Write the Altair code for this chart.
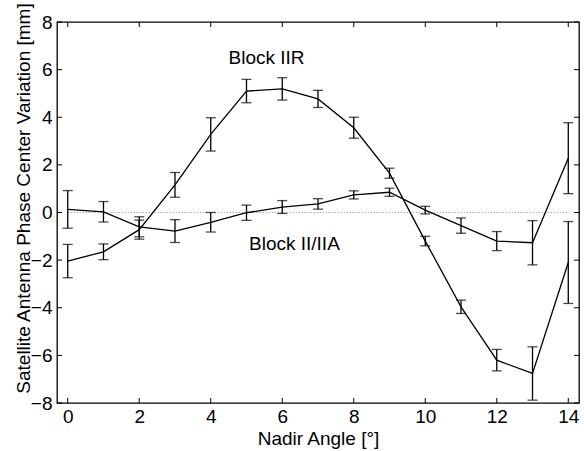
import altair as alt
import pandas as pd

# ---- data ----
angles = list(range(15))
iir = [-2.04, -1.65, -0.72, 1.16, 3.28, 5.10, 5.19, 4.77, 3.56, 1.65, -1.20, -3.96, -6.20, -6.76, -2.10]
iir_err = [0.70, 0.33, 0.40, 0.52, 0.70, 0.49, 0.47, 0.36, 0.44, 0.21, 0.20, 0.28, 0.45, 1.12, 1.72]
ii = [0.13, 0.03, -0.60, -0.78, -0.41, -0.01, 0.23, 0.36, 0.74, 0.85, 0.10, -0.55, -1.20, -1.27, 2.28]
ii_err = [0.79, 0.43, 0.42, 0.48, 0.41, 0.32, 0.27, 0.22, 0.17, 0.17, 0.16, 0.32, 0.40, 0.93, 1.49]

label_text = ["Block IIR", "Block II/IIA"]
label_x = [5.56, 6.34]
label_y = [6.49, -1.34]

x_ticks = [0, 2, 4, 6, 8, 10, 12, 14]
y_ticks = [-8, -6, -4, -2, 0, 2, 4, 6, 8]
zero_span = [0, 14]

W, H = 522, 381
FONT = "Liberation Sans"
FS = 19
TL = 5

rows = []
for name, vals, errs in [("Block IIR", iir, iir_err), ("Block II/IIA", ii, ii_err)]:
    for a, v, e in zip(angles, vals, errs):
        rows.append({"series": name, "angle": a, "value": v, "lo": v - e, "hi": v + e})
df = pd.DataFrame(rows)

xscale = alt.Scale(domain=[-0.3, 14.3], nice=False, zero=False)
yscale = alt.Scale(domain=[-8, 8], nice=False, zero=False)

xaxis = alt.Axis(values=x_ticks, title="Nadir Angle [°]", domain=False, ticks=False,
                 grid=False, labelFont=FONT, labelFontSize=FS, labelColor="black",
                 labelPadding=4, titleFont=FONT, titleFontSize=FS, titleFontWeight="normal",
                 titleColor="black", titleY=41, titleBaseline="alphabetic")
yaxis = alt.Axis(values=y_ticks, title="Satellite Antenna Phase Center Variation [mm]",
                 domain=False, ticks=False, grid=False, labelFont=FONT, labelFontSize=FS,
                 labelColor="black", labelPadding=5, titleFont=FONT, titleFontSize=FS,
                 titleFontWeight="normal", titleColor="black", titleX=-34,
                 titleY=176, titleBaseline="middle", titleAlign="center")


def X(field):
    return alt.X(field, scale=xscale, axis=xaxis)


def Y(field):
    return alt.Y(field, scale=yscale, axis=yaxis)


base = alt.Chart(df)

lines = base.mark_line(color="black", strokeWidth=1.3).encode(
    x=X("angle:Q"), y=Y("value:Q"), detail="series:N",
)
bars = base.mark_rule(color="black", strokeWidth=1.3).encode(
    x=X("angle:Q"), y=Y("lo:Q"), y2="hi:Q",
)
caps_lo = base.mark_tick(color="black", orient="horizontal", size=10, thickness=1.3).encode(
    x=X("angle:Q"), y=Y("lo:Q"),
)
caps_hi = base.mark_tick(color="black", orient="horizontal", size=10, thickness=1.3).encode(
    x=X("angle:Q"), y=Y("hi:Q"),
)

zero_df = pd.DataFrame({"x0": [zero_span[0]], "x1": [zero_span[1]], "y0": [0]})
zero_line = alt.Chart(zero_df).mark_rule(color="#888888", strokeWidth=1, strokeDash=[1, 2]).encode(
    x=X("x0:Q"), x2="x1:Q", y=Y("y0:Q"),
)

lab_df = pd.DataFrame({"t": label_text, "x": label_x, "y": label_y})
labels = alt.Chart(lab_df).mark_text(font=FONT, fontSize=FS, color="black", align="center",
                                     baseline="middle").encode(
    x=X("x:Q"), y=Y("y:Q"), text="t:N",
)

xt_df = pd.DataFrame({"t": x_ticks})
yt_df = pd.DataFrame({"t": y_ticks})
xt_bot = alt.Chart(xt_df).mark_rule(color="black").encode(
    x=X("t:Q"), y=alt.value(H), y2=alt.value(H - TL))
xt_top = alt.Chart(xt_df).mark_rule(color="black").encode(
    x=X("t:Q"), y=alt.value(0), y2=alt.value(TL))
yt_left = alt.Chart(yt_df).mark_rule(color="black").encode(
    y=Y("t:Q"), x=alt.value(0), x2=alt.value(TL))
yt_right = alt.Chart(yt_df).mark_rule(color="black").encode(
    y=Y("t:Q"), x=alt.value(W), x2=alt.value(W - TL))

chart = alt.layer(
    zero_line, lines, bars, caps_lo, caps_hi, labels, xt_bot, xt_top, yt_left, yt_right
).properties(
    width=W, height=H,
    padding={"left": 57, "top": 22, "right": 5, "bottom": 48},
    autosize=alt.AutoSizeParams(type="none"),
    background="white",
).configure_view(stroke="black", strokeWidth=1.3)

chart.save("out.html", embed_options={"renderer": "svg", "actions": False})
